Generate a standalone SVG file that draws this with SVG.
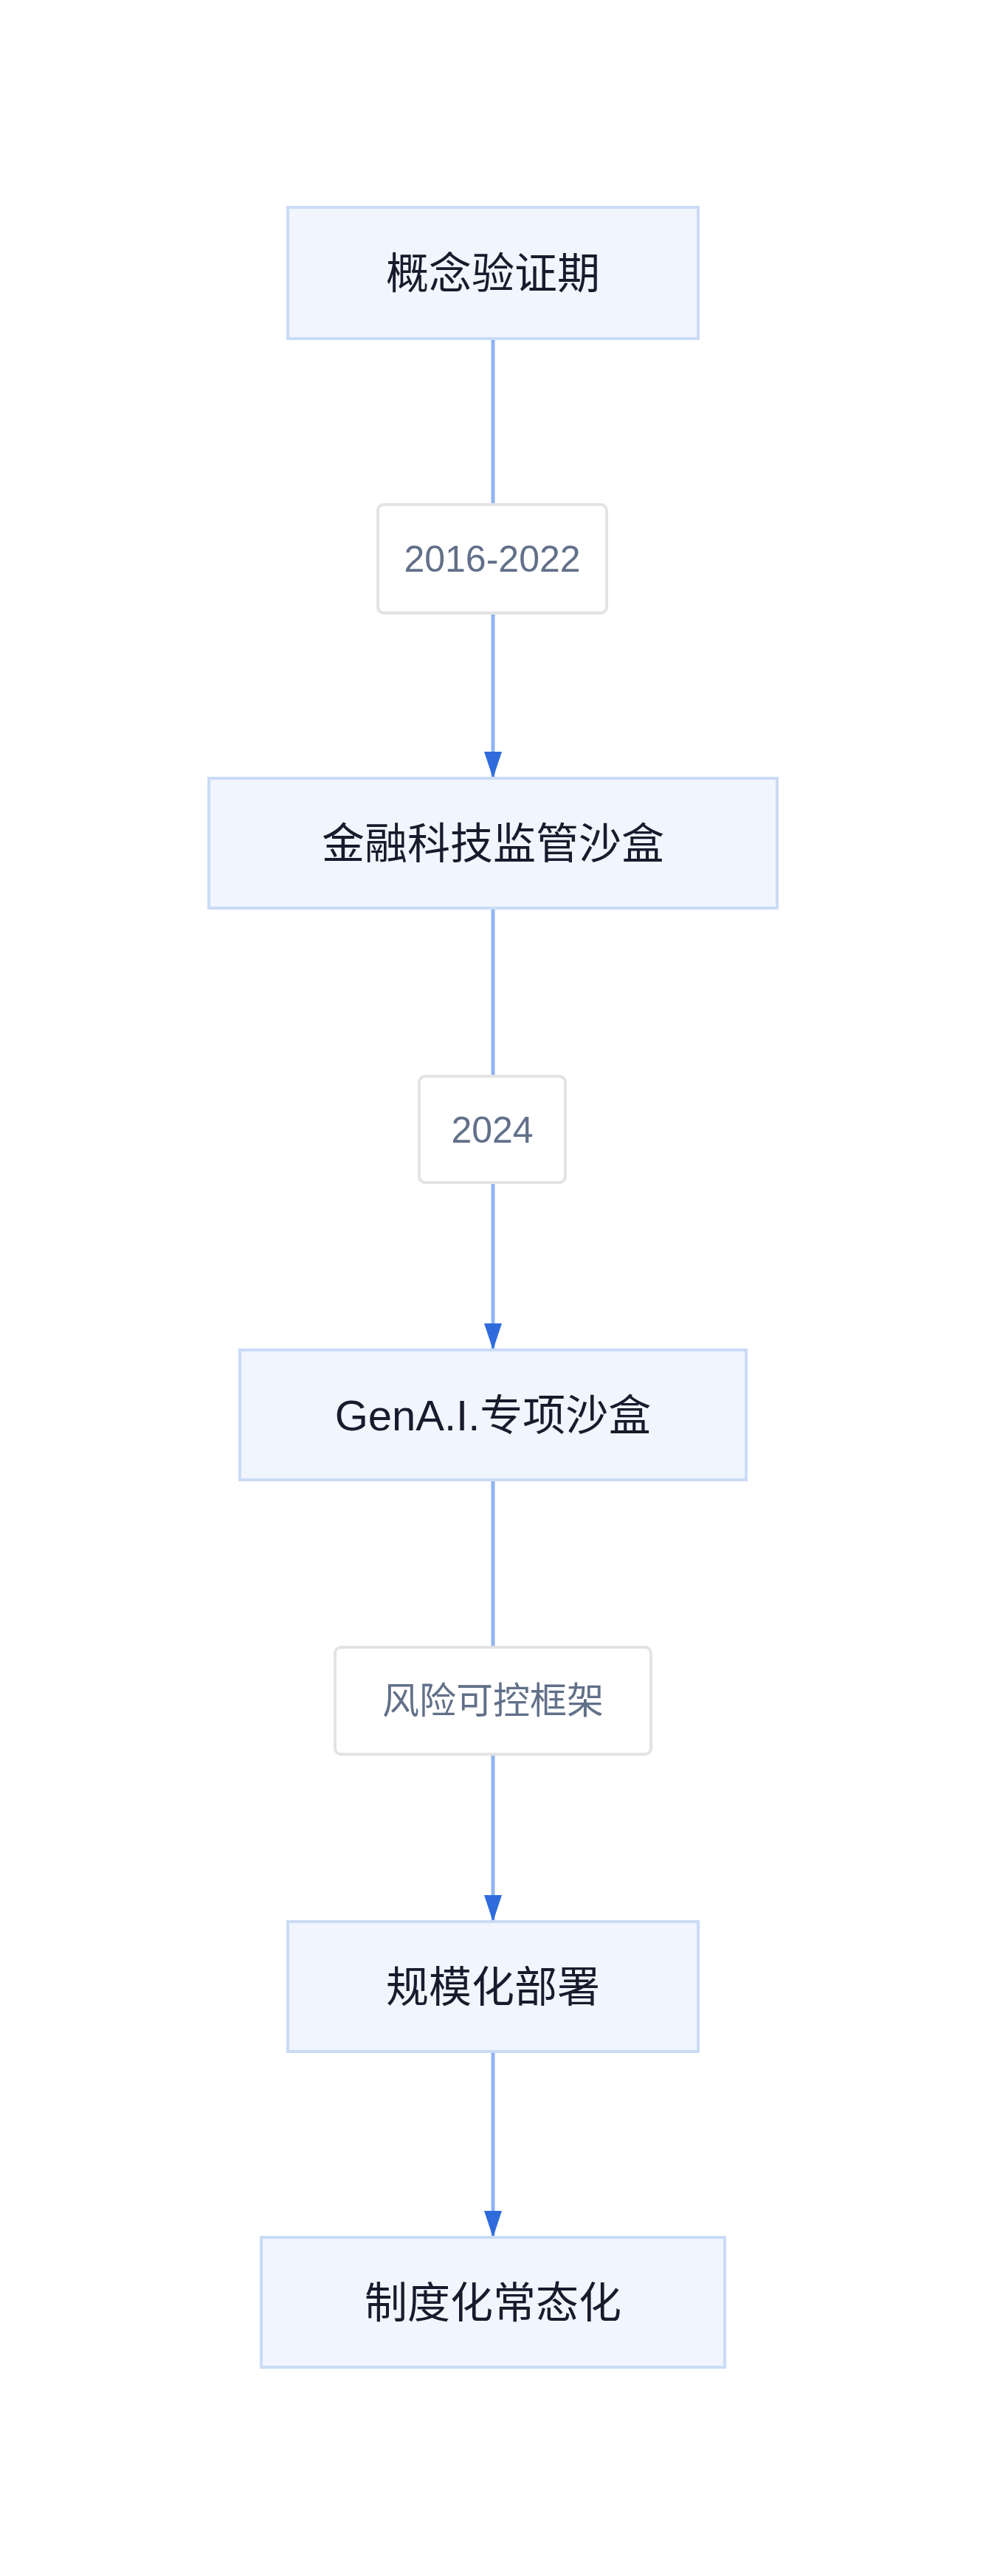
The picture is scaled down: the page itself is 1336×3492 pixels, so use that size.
<svg xmlns="http://www.w3.org/2000/svg" width="1336" height="3492" viewBox="0 0 1336 3492">
<style>
.n rect{fill:#f0f5fe;stroke:#cadbf5;stroke-width:4}
.n text{font-family:"Liberation Sans","Noto Sans CJK SC",sans-serif;font-size:58px;fill:#161c2c;text-anchor:middle;dominant-baseline:central}
.l rect{fill:#fff;stroke:#e3e3e3;stroke-width:4}
.l text{font-family:"Liberation Sans","Noto Sans CJK SC",sans-serif;font-size:50px;fill:#627089;text-anchor:middle;dominant-baseline:central}
.e line{stroke:#8fb4ef;stroke-width:5}
</style>
<defs><marker id="a" markerWidth="10" markerHeight="10" refX="5" refY="9" orient="auto" markerUnits="userSpaceOnUse" viewBox="0 0 10 10"><path d="M0,0 L10,0 L5,10 Z" fill="#2f6bdb"/></marker>
<marker id="ah" viewBox="0 0 24 36" refX="12" refY="36" markerWidth="24" markerHeight="36" markerUnits="userSpaceOnUse" orient="0"><path d="M0,0 L24,0 L12,36 Z" fill="#2f6bdb"/></marker></defs>
<rect width="1336" height="3492" fill="#fff"/>
<g id="edges" class="e">
<line x1="668" y1="459" x2="668" y2="1055" marker-end="url(#ah)"/>
<line x1="668" y1="1231" x2="668" y2="1830" marker-end="url(#ah)"/>
<line x1="668" y1="2006" x2="668" y2="2605" marker-end="url(#ah)"/>
<line x1="668" y1="2781" x2="668" y2="3033" marker-end="url(#ah)"/>
</g>
<g id="l1" class="l"><rect x="512" y="684" width="310" height="147" rx="8"/><text x="667" y="758">2016-2022</text></g>
<g id="l2" class="l"><rect x="568" y="1459" width="198" height="144" rx="8"/><text x="667" y="1532">2024</text></g>
<g id="l3" class="l"><rect x="454" y="2233" width="428" height="145" rx="8"/><text x="668" y="2306">风险可控框架</text></g>
<g id="n1" class="n"><rect x="390" y="281" width="556" height="178"/><text x="668" y="370">概念验证期</text></g>
<g id="n2" class="n"><rect x="283" y="1055" width="770" height="176"/><text x="668" y="1143">金融科技监管沙盒</text></g>
<g id="n3" class="n"><rect x="325" y="1830" width="686" height="176"/><text x="668" y="1918">GenA.I.专项沙盒</text></g>
<g id="n4" class="n"><rect x="390" y="2605" width="556" height="176"/><text x="668" y="2693">规模化部署</text></g>
<g id="n5" class="n"><rect x="354" y="3033" width="628" height="176"/><text x="668" y="3121">制度化常态化</text></g>
</svg>
